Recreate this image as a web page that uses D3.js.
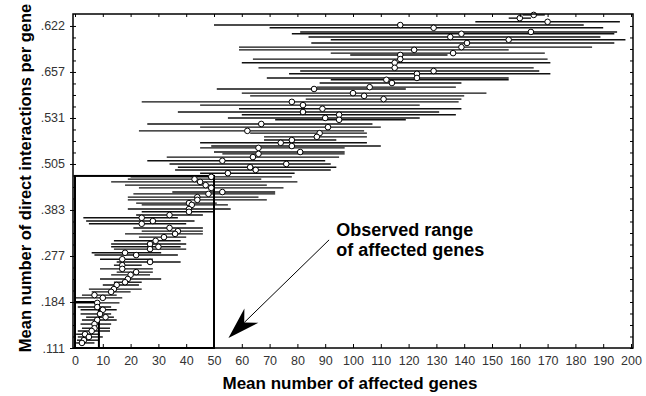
<!DOCTYPE html>
<html>
<head>
<meta charset="utf-8">
<script src="https://cdn.jsdelivr.net/npm/d3@7"></script>
<style>
  body { margin: 0; background: #fff; }
  svg { display: block; font-family: "Liberation Sans", Arial, sans-serif; }
</style>
</head>
<body>
<div id="chart"></div>
<script>
// Values, top row first.
// rowLevel is the vertical position in tick steps above the bottom tick (.111)
const rowLevel = [7.24,7.17,7.09,7.02,6.96,6.87,6.83,6.76,6.70,6.63,
    6.54,6.48,6.41,6.37,6.28,6.20,6.09,6.02,5.96,5.87,
    5.83,5.76,5.67,5.63,5.54,5.48,5.41,5.35,5.28,5.20,
    5.13,5.07,5.00,4.96,4.87,4.80,4.72,4.67,4.59,4.52,
    4.46,4.39,4.35,4.26,4.22,4.15,4.07,4.00,3.93,3.87,
    3.80,3.72,3.67,3.61,3.54,3.48,3.39,3.35,3.28,3.22,
    3.15,3.11,3.02,2.96,2.89,2.83,2.76,2.70,2.61,2.54,
    2.48,2.41,2.33,2.26,2.20,2.15,2.07,2.02,1.93,1.87,
    1.80,1.72,1.65,1.59,1.50,1.43,1.37,1.28,1.22,1.15,
    1.09,0.98,0.89,0.83,0.74,0.67,0.61,0.52,0.43,0.37,
    0.30,0.24,0.17,0.11];
const rowMean = [165,160,170,117,129,164,139,135,156,141,
    139,122,136,117,117,115,115,129,123,123,
    112,114,106,86,100,104,111,78,82,89,
    82,95,90,95,67,91,62,88,87,78,
    74,78,66,81,66,64,53,76,63,65,
    55,49,43,45,47,49,53,48,44,44,
    41,42,41,41,34,24,28,24,34,37,
    36,32,29,27,30,27,18,22,17,27,
    17,17,22,20,19,18,15,14,13,7,
    10,8,8,10,9,11,8,7,7,6,
    3.6,5,3.2,2.5];
const rowLow = [161,156,144,50,70,81,78,84,92,85,
    59,59,92,99,64,60,66,81,77,69,
    92,88,87,51,60,63,83,24,45,59,
    37,60,55,72,26,45,23,63,68,68,
    45,49,45,50,53,33,26,34,37,36,
    45,20,19,13,18,23,35,21,19,19,
    22,24,19,24,22,3,4,5,21,24,
    18,23,14,13,13,14,6,7,9,15,
    14,9,15,13,9,14,10,5,6,2.5,
    0,0,1,2,2,4,2.5,2,2.5,1,
    0.4,1,0.7,0.4];
const rowHigh = [169,164,196,183,190,195,194,189,198,194,
    186,156,169,134,170,171,165,167,171,156,
    156,139,137,119,148,140,139,138,124,139,
    131,137,124,119,107,110,104,105,105,94,
    105,110,97,97,97,95,90,92,94,92,
    79,78,67,80,69,75,72,72,66,69,
    51,55,56,50,46,37,43,40,46,46,
    46,40,38,40,38,40,31,37,28,38,
    24,28,28,27,31,24,23,24,20,15,
    17,16,13,15,13,14,15,13,12.6,12.6,
    9,10,8.3,7];

const xTickValues = [0,10,20,30,40,50,60,70,80,90,100,110,120,130,140,150,160,170,180,190,200];
const yTickValues = [0,1,2,3,4,5,6,7];
const yTickLabels = ['.111','.184','.277','.383','.505','.531','.657','.622'];

// the two highlighted boxes (x extent, top level), both start at the origin
const boxRight = [50, 8.6];
const boxTop = [3.74, 1.0];

// annotation arrow: start and tip in data units
const arrowStart = [91.4, 2.35];
const arrowTip = [55.2, 0.22];
const noteLines = ['Observed range', 'of affected genes'];

const width = 646, height = 396;

const svg = d3.select('#chart')
    .append('svg')
    .attr('width', width)
    .attr('height', height);

const x = d3.scaleLinear().domain([0, 200]).range([75, 631]);
const y = d3.scaleLinear().domain([0, 7.26]).range([348, 14]);

const rows = rowLevel.map((lv, i) => ({ level: lv, mean: rowMean[i], low: rowLow[i], high: rowHigh[i] }));

// error bars
svg.append('g')
    .selectAll('line')
    .data(rows)
    .join('line')
    .attr('x1', d => x(d.low))
    .attr('x2', d => x(d.high))
    .attr('y1', d => y(d.level))
    .attr('y2', d => y(d.level))
    .attr('stroke', '#111')
    .attr('stroke-width', 1.4);

// highlighted boxes
svg.append('g')
    .selectAll('rect')
    .data(boxRight.map((r, i) => ({ right: r, top: boxTop[i] })))
    .join('rect')
    .attr('x', x(0))
    .attr('y', d => y(d.top))
    .attr('width', d => x(d.right) - x(0))
    .attr('height', d => y(0) - y(d.top))
    .attr('fill', 'none')
    .attr('stroke', '#000')
    .attr('stroke-width', 2);

// mean markers
svg.append('g')
    .selectAll('circle')
    .data(rows)
    .join('circle')
    .attr('cx', d => x(d.mean))
    .attr('cy', d => y(d.level))
    .attr('r', 2.8)
    .attr('fill', '#fff')
    .attr('stroke', '#000')
    .attr('stroke-width', 1);

// frame
const [x0, x1] = x.range();
const [yb, yt] = y.range();
svg.append('rect')
    .attr('x', x0 - 2).attr('y', yt)
    .attr('width', x1 - x0 + 4).attr('height', yb - yt)
    .attr('fill', 'none')
    .attr('stroke', '#000')
    .attr('stroke-width', 1.5);

// axes
const axisFont = g => g.selectAll('text')
    .attr('font-size', 12.5)
    .attr('fill', '#333');

svg.append('g')
    .attr('transform', `translate(0,${yb})`)
    .call(d3.axisBottom(x).tickValues(xTickValues).tickSize(-4).tickPadding(8).tickFormat(d3.format('d')))
    .call(g => g.select('.domain').remove())
    .call(axisFont);

svg.append('g')
    .attr('transform', `translate(${x0 - 2},0)`)
    .call(d3.axisLeft(y).tickValues(yTickValues).tickSize(3).tickPadding(5).tickFormat((d, i) => yTickLabels[i]))
    .call(g => g.select('.domain').remove())
    .call(axisFont);

// minor ticks on left and right, small ticks along the top
const minor = d3.range(0, 29).map(i => i / 4);
svg.append('g')
    .attr('transform', `translate(${x0 - 2},0)`)
    .call(d3.axisLeft(y).tickValues(minor).tickSize(-3).tickFormat(''))
    .call(g => g.select('.domain').remove());
svg.append('g')
    .attr('transform', `translate(${x1 + 2},0)`)
    .call(d3.axisRight(y).tickValues(minor).tickSize(-3).tickFormat(''))
    .call(g => g.select('.domain').remove());
svg.append('g')
    .attr('transform', `translate(0,${yt})`)
    .call(d3.axisTop(x).tickValues(xTickValues).tickSize(-3).tickFormat(''))
    .call(g => g.select('.domain').remove());

// axis titles
svg.append('text')
    .attr('x', 350)
    .attr('y', 389)
    .attr('text-anchor', 'middle')
    .attr('font-size', 17)
    .attr('font-weight', 'bold')
    .text('Mean number of affected genes');

svg.append('text')
    .attr('transform', 'translate(31,178) rotate(-90)')
    .attr('text-anchor', 'middle')
    .attr('font-size', 16.5)
    .attr('font-weight', 'bold')
    .text('Mean number of direct interactions per gene');

// annotation
const sx = x(arrowStart[0]), sy = y(arrowStart[1]);
const tx = x(arrowTip[0]), ty = y(arrowTip[1]);
const len = Math.hypot(tx - sx, ty - sy);
const ux = (tx - sx) / len, uy = (ty - sy) / len;
const headLen = 32, headHalf = 10, notch = 22;

svg.append('line')
    .attr('x1', sx).attr('y1', sy)
    .attr('x2', tx - ux * notch).attr('y2', ty - uy * notch)
    .attr('stroke', '#000')
    .attr('stroke-width', 1);

const head = [
    [tx, ty],
    [tx - ux * headLen - uy * headHalf, ty - uy * headLen + ux * headHalf],
    [tx - ux * notch, ty - uy * notch],
    [tx - ux * headLen + uy * headHalf, ty - uy * headLen - ux * headHalf]
];
svg.append('path')
    .attr('d', d3.line()(head) + 'Z')
    .attr('fill', '#000');

svg.append('g')
    .selectAll('text')
    .data(noteLines)
    .join('text')
    .attr('x', x(94))
    .attr('y', (d, i) => y(2.43) + i * 20)
    .attr('font-size', 18)
    .attr('font-weight', 'bold')
    .text(d => d);
</script>
</body>
</html>
